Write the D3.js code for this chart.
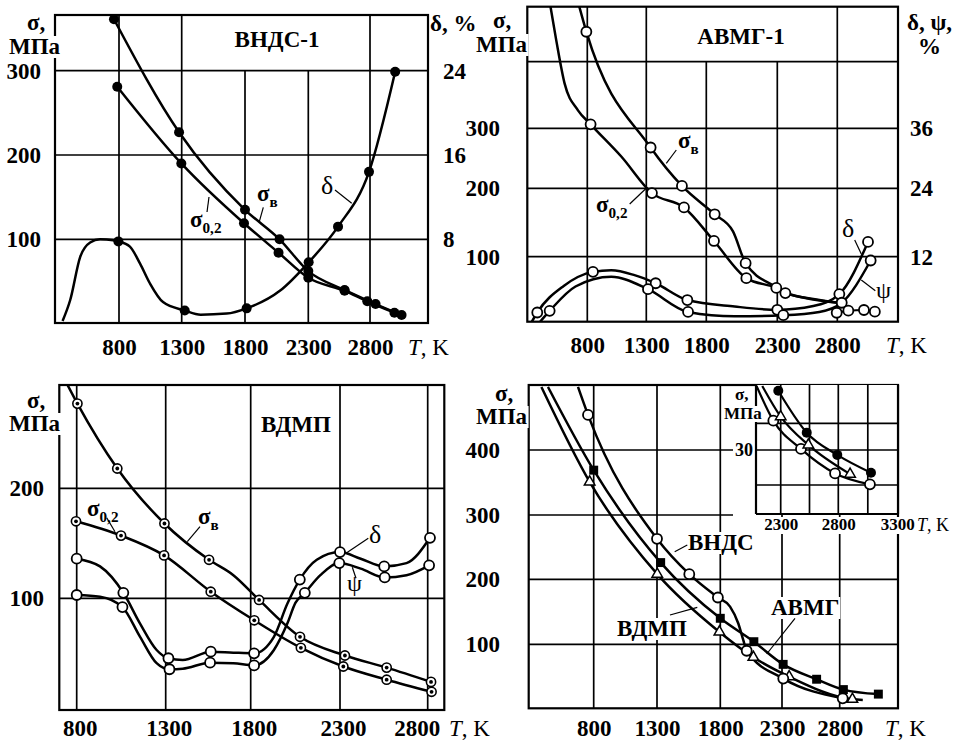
<!DOCTYPE html>
<html>
<head>
<meta charset="utf-8">
<script src="https://cdn.jsdelivr.net/npm/d3@7"></script>
<style>
  body { margin: 0; background: #fff; }
  text { font-family: "Liberation Serif", "Times New Roman", serif; fill: #000; }
</style>
</head>
<body>
<svg id="chart" width="958" height="746"></svg>
<script>
// ---------- data ----------
const tTicks = [800, 1300, 1800, 2300, 2800];

// ВНДС-1 (sigma in MPa, delta in %)
const vnds1SigmaTicks = [100, 200, 300];
const vnds1DeltaTicks = [8, 16, 24];
const vnds1SigmaB = [[760,361],[1279,227],[1800,135],[2073,100],[2300,62],[2594,39.5],[2845,22.6],[3056,9.5]];
const vnds1Sigma02 = [[786,281],[1297,190],[1792,119],[2065,84],[2300,54],[2594,38.5],[2778,26],[2998,12.3]];
const vnds1Delta = [[350,0.2],[411,2.2],[490,6.3],[570,7.7],[649,8.0],[754,7.9],[795,7.8],[887,7.3],[967,5.7],[1046,3.8],[1151,2.0],[1324,1.2],[1450,0.8],[1655,0.9],[1813,1.4],[2078,3.1],[2303,5.8],[2541,9.2],[2792,14.4],[3004,23.9]];
const vnds1DeltaMarks = [795,1324,1813,2303,2541,2792,3004];

// АВМГ-1
const avmgSigmaTicks = [100, 200, 300];
const avmgPctTicks = [12, 24, 36];
const avmgSigmaB = [[721,490],[792,445],[1336,268],[1597,204],[1859,162],[1988,137],[2077,90],[2293,53],[2367,44],[2600,35],[2810,29]];
const avmgSigmaBMarks = [792,1336,1597,1859,2077,2367];
const avmgSigma02 = [[481,490],[537,432],[608,367],[721,327],[828,306],[1088,253],[1347,193],[1614,172],[1854,123],[2082,67],[2293,52],[2367,45],[2600,34],[2810,29]];
const avmgSigma02Marks = [828,1347,1614,1854,2082,2293];
const avmgDelta = [[330,0],[376,1.7],[600,6.6],[848,9.2],[1003,9.5],[1200,8.6],[1378,7.1],[1642,4.0],[2000,2.8],[2300,2.2],[2600,2.9],[2817,5.1],[3056,14.6]];
const avmgDeltaMarks = [376,848,1378,1642,2300,2817,3056];
const avmgPsi = [[400,0],[481,2.0],[700,6.5],[1003,8.3],[1314,6.0],[1648,1.8],[2000,1.0],[2350,1.2],[2650,1.8],[2837,3.5],[3078,11.3]];
const avmgPsiMarks = [481,1314,1648,2350,2837,3078];
const avmgTail = [[2795,13.8],[2892,17],[3022,18],[3113,15.4]];

// ВДМП
const vdmpSigmaTicks = [100, 200];
const vdmpSigmaB = [[745,295],[804,277],[1028,218],[1293,168],[1555,135],[1698,121],[1847,98.5],[2076,65],[2328,48],[2566,37],[2819,24]];
const vdmpSigmaBMarks = [804,1028,1293,1555,1847,2076,2328,2566,2819];
const vdmpSigma02 = [[796,170],[1049,157],[1291,139],[1565,106],[1820,80],[2081,55],[2319,38],[2566,26],[2822,15]];
const vdmpDelta = [[800,136],[931,129],[1062,105],[1156,77],[1249,53],[1316,45.5],[1400,44],[1565,51.5],[1698,50.6],[1819,50],[1930,65],[2005,95],[2075,117],[2170,135],[2300,142],[2418,136],[2552,129],[2679,132],[2813,155]];
const vdmpDeltaMarks = [800,1062,1316,1565,1819,2075,2300,2552,2813];
const vdmpPsi = [[800,103],[931,101.5],[1057,92],[1156,65],[1249,41],[1322,35.5],[1400,36],[1561,41.5],[1698,41],[1819,39],[1930,53],[2005,77],[2051,96],[2103,105],[2190,121],[2296,132],[2418,127],[2555,119],[2679,121],[2808,130]];
const vdmpPsiMarks = [800,1057,1322,1561,1819,2103,2296,2555,2808];

// comparison panel
const cmpSigmaTicks = [100, 200, 300, 400];
const cmpVnds = [[676,497],[755,454],[1300,263],[1555,208],[1781,172],[1879,158],[1946,132],[1987,106],[2014,90],[2311,47],[2826,16.5]];
const cmpVndsMarks = [755,1300,1555,1781,2014,2311,2826];
const cmpSquares = [[439,497],[800,369],[1329,226],[1800,140],[2072,104],[2310,69],[2600,46],[2832,30],[3135,23]];
const cmpSquaresMarks = [800,1329,1800,2072,2310,2600,2832,3135];
const cmpTriangles = [[387,497],[768,351],[1302,208],[1793,119],[2068,80],[2362,50],[2910,15],[3000,14]];
const cmpTrianglesMarks = [768,1302,1793,2068,2362,2910];

// inset
const insetTTicks = [2300, 2800, 3300];
const insetTGrid = [2300, 2550, 2800, 3050];
const insetSigmaGrid = [20, 30, 40];
const insetSigmaTicks = [30];
const insetFilled = [[2279,52.2],[2526,36.5],[2791,28.6],[3077,23.5]];
const insetTri = [[2140,54],[2300,42.5],[2540,31.9],[2900,23.1]];
const insetTriMarks = [2300,2540,2900];
const insetOpen = [[2090,54],[2236,41],[2476,30.4],[2772,23.3],[3068,20.2]];
const insetOpenMarks = [2236,2476,2772,3068];

// ---------- helpers ----------
const FONT = '"Liberation Serif","Times New Roman",serif';
const fmt = d3.format('d');
const svg = d3.select('#chart');
const defs = svg.append('defs');

function addClip(id, f) {
  defs.append('clipPath').attr('id', id)
    .append('rect')
      .attr('x', f.x0).attr('y', f.y0)
      .attr('width', f.x1 - f.x0).attr('height', f.y1 - f.y0);
}

function line(g, x1, y1, x2, y2, w) {
  g.append('line')
    .attr('x1', x1).attr('y1', y1).attr('x2', x2).attr('y2', y2)
    .attr('stroke', '#000').attr('stroke-width', w || 1.7);
}

function frame(g, f) {
  g.append('rect')
    .attr('x', f.x0).attr('y', f.y0)
    .attr('width', f.x1 - f.x0).attr('height', f.y1 - f.y0)
    .attr('fill', 'none').attr('stroke', '#000').attr('stroke-width', 2.2);
}

function drawCurve(g, data, x, y, clip, w) {
  g.append('path')
    .datum(data)
    .attr('clip-path', `url(#${clip})`)
    .attr('fill', 'none')
    .attr('stroke', '#000')
    .attr('stroke-width', w || 2.5)
    .attr('stroke-linejoin', 'round')
    .attr('d', d3.line().x(d => x(d[0])).y(d => y(d[1])).curve(d3.curveMonotoneX));
}

function drawMarks(g, data, marks, x, y, kind) {
  const pts = marks ? data.filter(d => marks.includes(d[0])) : data;
  const m = g.selectAll(null)
    .data(pts)
    .join('g')
      .attr('transform', d => `translate(${x(d[0])},${y(d[1])})`);

  if (kind === 'dot') {
    m.append('circle').attr('r', 5).attr('fill', '#000');
  } else if (kind === 'open') {
    m.append('circle').attr('r', 5).attr('fill', '#fff').attr('stroke', '#000').attr('stroke-width', 1.8);
  } else if (kind === 'target') {
    m.append('circle').attr('r', 4.6).attr('fill', '#fff').attr('stroke', '#000').attr('stroke-width', 1.6);
    m.append('circle').attr('r', 1.9).attr('fill', '#000');
  } else if (kind === 'square') {
    m.append('path').attr('d', d3.symbol(d3.symbolSquare, 80)()).attr('fill', '#000');
  } else if (kind === 'tri') {
    m.append('path').attr('d', d3.symbol(d3.symbolTriangle, 48)())
      .attr('fill', '#fff').attr('stroke', '#000').attr('stroke-width', 1.5);
  }
}

function txt(g, x, y, s, o = {}) {
  const t = g.append('text')
    .attr('x', x).attr('y', y)
    .attr('font-size', o.size || 22)
    .attr('font-weight', o.weight || 'bold')
    .attr('text-anchor', o.anchor || 'start')
    .text(s);
  if (o.bg) {
    const b = t.node().getBBox();
    g.insert('rect', () => t.node())
      .attr('x', b.x - 1).attr('y', b.y + 2)
      .attr('width', b.width + 2).attr('height', b.height - 3)
      .attr('fill', '#fff');
  }
  return t;
}

function sigmaLabel(g, x, y, sub, size) {
  const s = size || 23;
  const t = g.append('text').attr('x', x).attr('y', y)
    .attr('font-size', s).attr('font-weight', 'bold');
  t.append('tspan').text('σ');
  t.append('tspan').attr('font-size', s * 0.66).attr('dy', s * 0.25).text(sub);
}

function axisTitleT(g, x, y, size) {
  const t = g.append('text').attr('x', x).attr('y', y).attr('font-size', size || 23);
  t.append('tspan').attr('font-style', 'italic').text('T');
  t.append('tspan').text(', K');
}

function tickLabels(g, axis, tx, ty, size, bottom) {
  const a = g.append('g')
    .attr('transform', `translate(${tx},${ty})`)
    .call(axis.tickSize(0).tickPadding(0).tickFormat(fmt));
  a.select('.domain').remove();
  a.attr('font-family', FONT).attr('font-size', size || 22).attr('font-weight', 'bold');
  a.selectAll('text').attr('fill', '#000');
  if (bottom) a.selectAll('text').attr('dy', 0);
  return a;
}

function whiteBehind(sel) {
  sel.selectAll('text').each(function () {
    const b = this.getBBox();
    d3.select(this.parentNode).insert('rect', () => this)
      .attr('x', b.x - 1).attr('y', b.y + 2)
      .attr('width', b.width + 2).attr('height', b.height - 2)
      .attr('fill', '#fff');
  });
}

// ---------- panel 1: ВНДС-1 ----------
{
  const f = { x0: 55, x1: 428, y0: 15, y1: 323 };
  const g = svg.append('g');
  addClip('c1', f);
  const x = d3.scaleLinear().domain(tTicks).range([119, 181.7, 245, 308.3, 370]);
  const y = d3.scaleLinear().domain([0, 100, 200, 300]).range([323, 239.3, 155, 70.7]);
  const yR = d3.scaleLinear().domain([0, 8, 16, 24]).range([323, 239.3, 155, 70.7]);

  vnds1SigmaTicks.forEach(v => line(g, f.x0, y(v), f.x1, y(v)));
  [800, 1300, 2800].forEach(t => line(g, x(t), f.y0, x(t), f.y1));
  [1800, 2300].forEach(t => line(g, x(t), y(300), x(t), f.y1));
  frame(g, f);

  tickLabels(g, d3.axisLeft(y).tickValues(vnds1SigmaTicks), 41, 0, 23);
  tickLabels(g, d3.axisRight(yR).tickValues(vnds1DeltaTicks), 443, 0, 23);
  tickLabels(g, d3.axisBottom(x).tickValues(tTicks), 0, 355, 23, true);
  axisTitleT(g, 408, 355);

  txt(g, 27, 30, 'σ,', { size: 23 });
  txt(g, 9, 54, 'МПа', { bg: true, size: 23 });
  txt(g, 430, 31, 'δ, %', { size: 23 });
  txt(g, 277, 47, 'ВНДС-1', { anchor: 'middle', size: 23 });

  drawCurve(g, vnds1Delta, x, yR, 'c1');
  drawCurve(g, vnds1SigmaB, x, y, 'c1');
  drawCurve(g, vnds1Sigma02, x, y, 'c1');
  drawMarks(g, vnds1Delta, vnds1DeltaMarks, x, yR, 'dot');
  drawMarks(g, vnds1SigmaB, null, x, y, 'dot');
  drawMarks(g, vnds1Sigma02, null, x, y, 'dot');

  sigmaLabel(g, 257, 201, 'в');
  sigmaLabel(g, 190, 227, '0,2');
  txt(g, 321, 194, 'δ', { weight: 'normal', size: 26 });
  line(g, 263.3, 207.3, 259.3, 221.7, 1.2);
  line(g, 207, 212, 209, 197, 1.2);
  line(g, 335, 190, 351.7, 203.3, 1.2);
}

// ---------- panel 2: АВМГ-1 ----------
{
  const f = { x0: 527.3, x1: 898, y0: 6.7, y1: 321.7 };
  const g = svg.append('g');
  addClip('c2', f);
  const x = d3.scaleLinear().domain(tTicks).range([587.3, 646.3, 706.3, 777.3, 837.3]);
  const y = d3.scaleLinear().domain([0, 100, 200, 300, 400]).range([321.7, 256.7, 188.3, 128.3, 61.7]);
  const yR = d3.scaleLinear().domain([0, 12, 24, 36, 48]).range([321.7, 256.7, 188.3, 128.3, 61.7]);

  [100, 200, 300, 400].forEach(v => line(g, f.x0, y(v), f.x1, y(v)));
  [800, 1300, 2800].forEach(t => line(g, x(t), f.y0, x(t), f.y1));
  [1800, 2300].forEach(t => line(g, x(t), y(400), x(t), f.y1));
  frame(g, f);

  tickLabels(g, d3.axisLeft(y).tickValues(avmgSigmaTicks), 500, 0, 23);
  tickLabels(g, d3.axisRight(yR).tickValues(avmgPctTicks), 910, 0, 23);
  tickLabels(g, d3.axisBottom(x).tickValues(tTicks), 0, 353, 23, true);
  axisTitleT(g, 886, 353);

  txt(g, 493, 28, 'σ,', { size: 23 });
  txt(g, 476, 52, 'МПа', { bg: true, size: 23 });
  txt(g, 907, 30, 'δ, ψ,', { size: 23 });
  txt(g, 918, 54, '%', { size: 23 });
  txt(g, 741, 44, 'АВМГ-1', { anchor: 'middle', size: 23 });

  drawCurve(g, avmgSigmaB, x, y, 'c2');
  drawCurve(g, avmgSigma02, x, y, 'c2');
  drawCurve(g, avmgDelta, x, yR, 'c2');
  drawCurve(g, avmgPsi, x, yR, 'c2');
  drawCurve(g, avmgTail, x, y, 'c2', 2);
  drawMarks(g, avmgSigmaB, avmgSigmaBMarks, x, y, 'open');
  drawMarks(g, avmgSigma02, avmgSigma02Marks, x, y, 'open');
  drawMarks(g, avmgDelta, avmgDeltaMarks, x, yR, 'open');
  drawMarks(g, avmgPsi, avmgPsiMarks, x, yR, 'open');
  drawMarks(g, avmgTail, null, x, y, 'open');

  sigmaLabel(g, 678, 148, 'в');
  sigmaLabel(g, 596, 212, '0,2');
  txt(g, 842, 237, 'δ', { weight: 'normal', size: 26 });
  txt(g, 876, 298, 'ψ', { weight: 'normal', size: 24 });
  line(g, 676.3, 150, 666.3, 163.3, 1.2);
  line(g, 629.7, 204, 647.3, 187.3, 1.2);
  line(g, 854.7, 240, 861.3, 254, 1.2);
  line(g, 875.3, 290.7, 861.3, 280, 1.2);
}

// ---------- panel 3: ВДМП ----------
{
  const f = { x0: 59.3, x1: 444.3, y0: 385, y1: 710 };
  const g = svg.append('g');
  addClip('c3', f);
  const x = d3.scaleLinear().domain(tTicks).range([76.7, 165.7, 250.7, 340, 427.7]);
  const y = d3.scaleLinear().domain([0, 100, 200]).range([708.3, 598.3, 488.3]);

  vdmpSigmaTicks.forEach(v => line(g, f.x0, y(v), f.x1, y(v)));
  tTicks.forEach(t => line(g, x(t), f.y0, x(t), f.y1));
  frame(g, f);

  tickLabels(g, d3.axisLeft(y).tickValues(vdmpSigmaTicks), 44, 0, 23);
  const bx = tickLabels(g, d3.axisBottom(x).tickValues(tTicks), 0, 736, 23, true);
  bx.selectAll('text').attr('dx', d => d === 2800 ? -11 : 3);
  axisTitleT(g, 449, 736);

  txt(g, 27, 408, 'σ,', { size: 23 });
  txt(g, 9, 431, 'МПа', { bg: true, size: 23 });
  txt(g, 296, 432, 'ВДМП', { anchor: 'middle', size: 23 });

  drawCurve(g, vdmpSigmaB, x, y, 'c3');
  drawCurve(g, vdmpSigma02, x, y, 'c3');
  drawCurve(g, vdmpDelta, x, y, 'c3');
  drawCurve(g, vdmpPsi, x, y, 'c3');
  drawMarks(g, vdmpSigmaB, vdmpSigmaBMarks, x, y, 'target');
  drawMarks(g, vdmpSigma02, null, x, y, 'target');
  drawMarks(g, vdmpDelta, vdmpDeltaMarks, x, y, 'open');
  drawMarks(g, vdmpPsi, vdmpPsiMarks, x, y, 'open');

  sigmaLabel(g, 87, 516, '0,2');
  sigmaLabel(g, 198, 524, 'в');
  txt(g, 369, 543, 'δ', { weight: 'normal', size: 26 });
  txt(g, 347, 591, 'ψ', { weight: 'normal', size: 24 });
  line(g, 106.7, 517.7, 115, 531.7, 1.2);
  line(g, 200, 526.7, 187.3, 541.7, 1.2);
  line(g, 368.3, 538.3, 346.7, 552.7, 1.2);
  line(g, 356, 578.3, 352.3, 567.3, 1.2);
}

// ---------- panel 4: comparison + inset ----------
{
  const f = { x0: 528.7, x1: 898, y0: 385, y1: 708.3 };
  const fi = { x0: 756, x1: 898, y0: 385, y1: 514 };
  const g = svg.append('g');
  addClip('c4', f);
  addClip('c4i', fi);
  const x = d3.scaleLinear().domain(tTicks).range([593.7, 657, 720.3, 782, 839.7]);
  const y = d3.scaleLinear().domain([0, 100, 200, 300, 400]).range([709, 644.3, 579.3, 515, 450]);
  const xi = d3.scaleLinear().domain(insetTTicks).range([780.7, 838.3, 897.3]);
  const yi = d3.scaleLinear().domain([10, 20, 30, 40]).range([514, 485, 450, 423.3]);

  [100, 200].forEach(v => line(g, f.x0, y(v), f.x1, y(v)));
  [300, 400].forEach(v => line(g, f.x0, y(v), 733, y(v)));
  [800, 1300, 1800].forEach(t => line(g, x(t), f.y0, x(t), f.y1));
  [2300, 2800].forEach(t => line(g, x(t), fi.y1, x(t), f.y1));
  frame(g, f);

  tickLabels(g, d3.axisLeft(y).tickValues(cmpSigmaTicks), 500, 0, 23);
  tickLabels(g, d3.axisBottom(x).tickValues(tTicks), 0, 736, 23, true);
  axisTitleT(g, 885, 736);

  txt(g, 495, 401, 'σ,', { size: 23 });
  txt(g, 476, 424, 'МПа', { bg: true, size: 23 });

  drawCurve(g, cmpTriangles, x, y, 'c4');
  drawCurve(g, cmpSquares, x, y, 'c4');
  drawCurve(g, cmpVnds, x, y, 'c4');
  drawMarks(g, cmpTriangles, cmpTrianglesMarks, x, y, 'tri');
  drawMarks(g, cmpSquares, cmpSquaresMarks, x, y, 'square');
  drawMarks(g, cmpVnds, cmpVndsMarks, x, y, 'open');

  txt(g, 688, 550, 'ВНДС', { bg: true, size: 23 });
  txt(g, 617, 636, 'ВДМП', { bg: true, size: 23 });
  txt(g, 771, 615, 'АВМГ', { bg: true, size: 23 });
  line(g, 674.7, 551.7, 687.3, 545, 1.2);
  line(g, 670, 615, 697.3, 607.3, 1.2);
  line(g, 795, 618.3, 766.7, 654, 1.2);

  // inset
  const gi = svg.append('g');
  gi.append('rect').attr('x', fi.x0).attr('y', fi.y0)
    .attr('width', fi.x1 - fi.x0).attr('height', fi.y1 - fi.y0).attr('fill', '#fff');
  insetSigmaGrid.forEach(v => line(gi, fi.x0, yi(v), fi.x1, yi(v)));
  insetTGrid.forEach(t => line(gi, xi(t), fi.y0, xi(t), fi.y1));
  line(gi, fi.x0, fi.y0, fi.x0, fi.y1, 2.2);
  line(gi, fi.x0, fi.y1, fi.x1, fi.y1, 2.2);
  line(gi, fi.x1, fi.y0, fi.x1, fi.y1, 2.2);

  const ix = tickLabels(gi, d3.axisBottom(xi).tickValues(insetTTicks), 0, 530, 17, true);
  whiteBehind(ix);
  tickLabels(gi, d3.axisLeft(yi).tickValues(insetSigmaTicks), 753, 0, 18);
  axisTitleT(gi, 917, 531, 18);
  txt(gi, 735, 400, 'σ,', { size: 17 });
  txt(gi, 724, 419, 'МПа', { size: 17, bg: true });

  drawCurve(gi, insetOpen, xi, yi, 'c4i', 2.2);
  drawCurve(gi, insetTri, xi, yi, 'c4i', 2.2);
  drawCurve(gi, insetFilled, xi, yi, 'c4i', 2.2);
  drawMarks(gi, insetOpen, insetOpenMarks, xi, yi, 'open');
  drawMarks(gi, insetTri, insetTriMarks, xi, yi, 'tri');
  drawMarks(gi, insetFilled, null, xi, yi, 'dot');
}
</script>
</body>
</html>
